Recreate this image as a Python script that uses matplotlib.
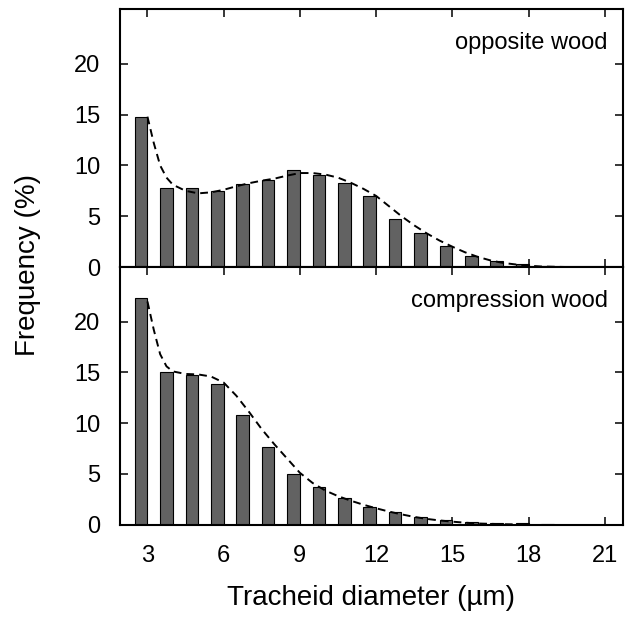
import matplotlib
matplotlib.use("Agg")
import matplotlib.pyplot as plt

plt.rcParams['font.family'] = ['Liberation Sans', 'DejaVu Sans']

# Bar data (tracheid diameter classes, µm) and frequencies (%)
diam = [3, 4, 5, 6, 7, 8, 9, 10, 11, 12, 13, 14, 15, 16, 17, 18, 19]
opposite = [14.8, 7.73, 7.73, 7.5, 8.16, 8.55, 9.57, 9.05, 8.29, 6.97, 4.77,
            3.36, 2.07, 1.05, 0.6, 0.3, 0.1]
compression = [22.3, 15.0, 14.74, 13.9, 10.8, 7.65, 5.03, 3.73, 2.58, 1.76,
               1.24, 0.78, 0.46, 0.2, 0.12, 0.1, 0.05]

# Dashed fitted curves
fit_x_opp = [3, 3.25, 3.5, 3.75, 4, 4.5, 5, 5.5, 6, 6.5, 7, 7.5, 8, 8.5, 9,
             9.5, 10, 10.5, 11, 11.5, 12, 12.5, 13, 13.5, 14, 14.5, 15, 15.5,
             16, 16.5, 17, 17.5, 18, 18.5, 19, 19.5]
fit_y_opp = [14.8, 12.2, 10.0, 8.8, 8.1, 7.5, 7.25, 7.35, 7.6, 7.95, 8.25, 8.5,
             8.7, 9.0, 9.25, 9.25, 9.1, 8.8, 8.3, 7.7, 7.0, 6.0, 5.0, 4.1, 3.3,
             2.6, 2.0, 1.45, 1.0, 0.65, 0.4, 0.25, 0.13, 0.05, 0.02, 0.0]
fit_x_comp = [3, 3.25, 3.5, 3.75, 4, 4.5, 5, 5.5, 6, 6.5, 7, 7.5, 8, 8.5, 9,
              9.5, 10, 10.5, 11, 11.5, 12, 12.5, 13, 13.5, 14, 14.5, 15, 15.5,
              16, 17, 18]
fit_y_comp = [22.0, 19.2, 16.8, 15.6, 15.1, 14.85, 14.8, 14.6, 14.0, 12.7, 11.1,
              9.4, 7.9, 6.5, 5.1, 4.1, 3.35, 2.8, 2.35, 1.95, 1.6, 1.28, 1.0,
              0.75, 0.55, 0.4, 0.28, 0.18, 0.1, 0.03, 0.0]

xticks = [3, 6, 9, 12, 15, 18, 21]
yticks = [0, 5, 10, 15, 20]

W, H = 628, 627
fig = plt.figure(figsize=(W / 100, H / 100), dpi=100)
left, right = 119.5 / W, 622.5 / W
y_top, y_mid, y_bot = 9 / H, 267 / H, 524.5 / H
ax1 = fig.add_axes([left, 1 - y_mid, right - left, y_mid - y_top])
ax2 = fig.add_axes([left, 1 - y_bot, right - left, y_bot - y_mid])

panels = [(ax1, opposite, fit_x_opp, fit_y_opp, "opposite wood"),
          (ax2, compression, fit_x_comp, fit_y_comp, "compression wood")]

for ax, vals, fx, fy, label in panels:
    ax.bar(diam, vals, width=-0.5, align='edge', color='#626262',
           edgecolor='black', linewidth=0.8, zorder=2)
    ax.plot(fx, fy, color='black', linestyle=(0, (4, 2.6)), linewidth=1.4,
            zorder=3)
    ax.set_xlim(1.9, 21.7)
    ax.set_ylim(0, 25.4)
    ax.set_xticks(xticks)
    ax.set_yticks(yticks)
    ax.tick_params(direction='in', length=6, width=1.1, top=True, right=True,
                   labelsize=17, pad=14)
    for s in ax.spines.values():
        s.set_linewidth(1.5)
    ax.text(0.971, 0.868, label, transform=ax.transAxes, ha='right',
            va='center', fontsize=17)

ax1.tick_params(labelbottom=False)
ax2.tick_params(axis='x', pad=15)

fig.text(28 / W, 1 - 265 / H, "Frequency (%)", rotation=90, ha='center',
         va='center', fontsize=20)
fig.text((left + right) / 2, 1 - 598 / H, "Tracheid diameter (µm)",
         ha='center', va='center', fontsize=20)

fig.savefig("out.png", dpi=100)
